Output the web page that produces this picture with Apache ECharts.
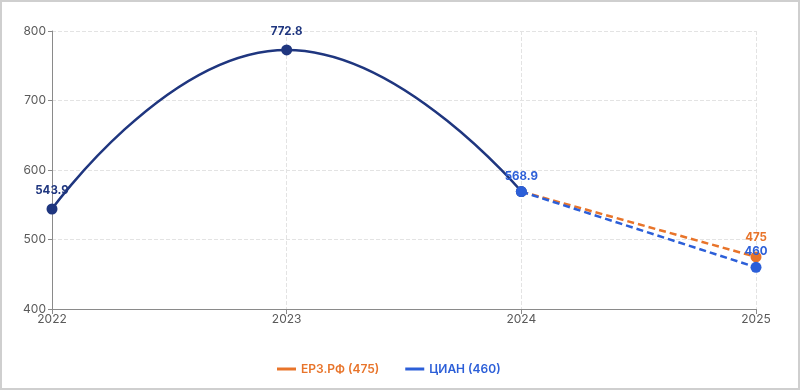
<!DOCTYPE html>
<html>
<head>
<meta charset="utf-8">
<script src="https://cdn.jsdelivr.net/npm/echarts@6/dist/echarts.min.js"></script>
<style>
html,body{margin:0;padding:0;background:#fff;}
#frame{width:800px;height:390px;box-sizing:border-box;border:2px solid #cfcfcf;position:relative;}
#chart{position:absolute;left:-2px;top:-2px;width:800px;height:390px;}
</style>
</head>
<body>
<div id="frame"><div id="chart"></div></div>
<script>
const years = ['2022', '2023', '2024', '2025'];
const mainValues = [543.9, 772.8, 568.9, null];
const erzValues = [null, null, 568.9, 475];
const cianValues = [null, null, 568.9, 460];
const erzName = 'ЕРЗ.РФ (475)';
const cianName = 'ЦИАН (460)';
const yTicks = { min: 400, max: 800, interval: 100 };

const navy = '#1f367f';
const orange = '#e8742a';
const blue = '#2c5fd8';

const chart = echarts.init(document.getElementById('chart'), null, { renderer: 'canvas' });
const labelBase = { show: true, position: 'top', distance: 7, fontSize: 11.5, fontWeight: 'bold', fontFamily: 'Inter, Roboto, sans-serif' };

chart.setOption({
  animation: false,
  grid: { left: 52, right: 44, top: 31, bottom: 81 },
  textStyle: { fontFamily: 'Inter, Roboto, sans-serif' },
  legend: {
    bottom: 10,
    left: 272,
    itemWidth: 19,
    itemHeight: 3,
    itemGap: 26,
    icon: 'rect',
    textStyle: { fontSize: 12, fontWeight: 600 },
    data: [
      { name: erzName, textStyle: { color: orange } },
      { name: cianName, textStyle: { color: blue } }
    ]
  },
  xAxis: {
    type: 'category',
    data: years,
    boundaryGap: false,
    axisLine: { lineStyle: { color: '#8a8a8a' } },
    axisTick: { show: true, alignWithLabel: true, lineStyle: { color: '#8a8a8a' } },
    axisLabel: { color: '#5a5a5a', fontSize: 12, margin: 4 },
    splitLine: { show: true, lineStyle: { type: 'dashed', color: '#e3e3e3' } }
  },
  yAxis: {
    type: 'value',
    min: yTicks.min,
    max: yTicks.max,
    interval: yTicks.interval,
    axisLine: { show: true, lineStyle: { color: '#8a8a8a' } },
    axisTick: { show: true, length: 4, lineStyle: { color: '#8a8a8a' } },
    axisLabel: { color: '#5a5a5a', fontSize: 12, margin: 6 },
    splitLine: { show: true, lineStyle: { type: 'dashed', color: '#e3e3e3' } }
  },
  series: [
    {
      name: 'main',
      type: 'line',
      smooth: true,
      data: mainValues.map((v, i) => i === 2 ? { value: v, label: { show: false } } : v),
      symbol: 'circle',
      symbolSize: 11,
      lineStyle: { color: navy, width: 2.5 },
      itemStyle: { color: navy },
      label: Object.assign({}, labelBase, { color: navy }),
      z: 2
    },
    {
      name: erzName,
      type: 'line',
      data: erzValues.map((v, i) => i === 2 ? { value: v, symbol: 'none', label: { show: false } } : v),
      symbol: 'circle',
      symbolSize: 11,
      lineStyle: { color: orange, width: 2.5, type: [7, 4] },
      itemStyle: { color: orange },
      label: Object.assign({}, labelBase, { color: orange, distance: 8 }),
      z: 3
    },
    {
      name: cianName,
      type: 'line',
      data: cianValues,
      symbol: 'circle',
      symbolSize: 11,
      lineStyle: { color: blue, width: 2.5, type: [7, 4] },
      itemStyle: { color: blue },
      label: Object.assign({}, labelBase, { color: blue, distance: 4 }),
      z: 4
    }
  ]
});
</script>
</body>
</html>
